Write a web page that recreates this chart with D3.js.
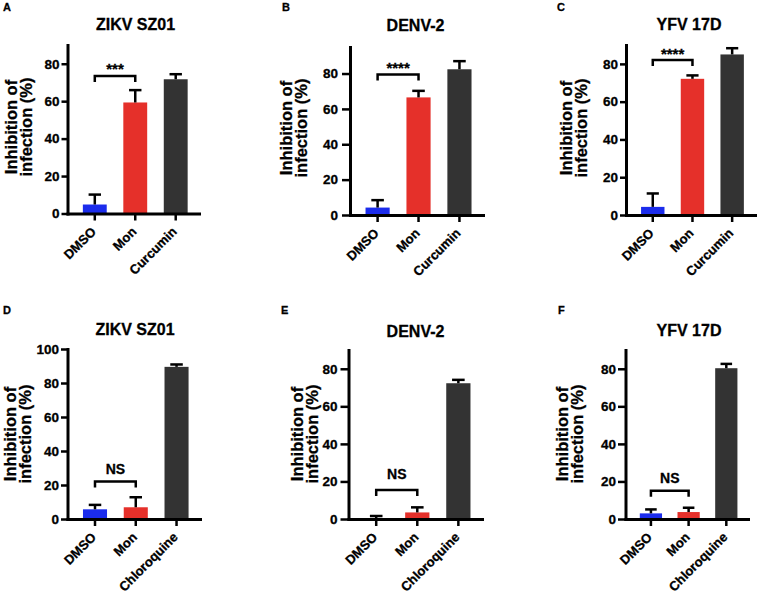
<!DOCTYPE html>
<html>
<head>
<meta charset="utf-8">
<script src="https://cdn.jsdelivr.net/npm/d3@7"></script>
<style>
  html, body { margin: 0; padding: 0; background: #fff; }
  svg { display: block; font-family: "Liberation Sans", Arial, Helvetica, sans-serif; font-weight: bold; }
  svg text { stroke: #000; stroke-width: 0.3px; }
</style>
</head>
<body>
<svg id="chart" width="758" height="596"></svg>
<script>
// ---------------- data ----------------
const panelLetters = ["A", "B", "C", "D", "E", "F"];
const panelTitles = ["ZIKV SZ01", "DENV-2", "YFV 17D", "ZIKV SZ01", "DENV-2", "YFV 17D"];
const categoriesTop = ["DMSO", "Mon", "Curcumin"];
const categoriesBottom = ["DMSO", "Mon", "Chloroquine"];
const panelCategories = [categoriesTop, categoriesTop, categoriesTop, categoriesBottom, categoriesBottom, categoriesBottom];
// mean inhibition (%)
const meanA = [4.8, 59.3, 71.7];
const meanB = [4.2, 66.5, 82.4];
const meanC = [4.3, 72.1, 85.0];
const meanD = [5.7, 6.9, 89.5];
const meanE = [0.3, 3.5, 72.3];
const meanF = [3.0, 3.7, 80.3];
// upper error bar (SD)
const errA = [5.3, 6.6, 2.7];
const errB = [4.2, 3.7, 4.6];
const errC = [7.1, 1.8, 3.3];
const errD = [2.6, 5.9, 1.4];
const errE = [1.3, 2.7, 1.8];
const errF = [2.1, 2.3, 2.3];
const panelMeans = [meanA, meanB, meanC, meanD, meanE, meanF];
const panelErrors = [errA, errB, errC, errD, errE, errF];
const yMax = [90, 95, 90, 100, 90, 90];
const ticks80 = [0, 20, 40, 60, 80];
const ticks100 = [0, 20, 40, 60, 80, 100];
const panelTicks = [ticks80, ticks80, ticks80, ticks100, ticks80, ticks80];
const significance = ["***", "****", "****", "NS", "NS", "NS"];
const bracketLevel = [73.5, 79.5, 82, 22, 15.5, 15];
const yLabelLines = ["Inhibition of", "infection (%)"];

// ---------------- layout & style ----------------
const barColors = ["#1b2cec", "#e5302a", "#333333"];
const layout = [
  {ax: 67.5, base: 213.5, top: 45, right: 199, tick: 6, pad: 2, lx: 3,   ly: 11,  tx: 135.5, ty: 30,  labX: 16.5, labY: 127, sigOff: 1.5},
  {ax: 350,  base: 215,   top: 47, right: 483, tick: 8, pad: 4, lx: 282, ly: 11,  tx: 415.5, ty: 30.5, labX: 291.5, labY: 128, sigOff: 1.5},
  {ax: 626,  base: 215,   top: 45, right: 755, tick: 6, pad: 2, lx: 557, ly: 11,  tx: 689,   ty: 29.5, labX: 571.5, labY: 128, sigOff: 1},
  {ax: 67.5, base: 519,   top: 349, right: 200, tick: 6.5, pad: 2, lx: 3,   ly: 314, tx: 135,   ty: 335, labX: 15.5,  labY: 434, sigOff: 8},
  {ax: 348.5, base: 519,  top: 350, right: 482, tick: 8, pad: 3, lx: 281, ly: 314, tx: 415.5, ty: 336.5, labX: 302.5, labY: 434, sigOff: 11},
  {ax: 625.5, base: 519,  top: 350, right: 748, tick: 7.5, pad: 2, lx: 558, ly: 314, tx: 689,   ty: 336, labX: 567.5, labY: 434, sigOff: 7.5}
];

const svg = d3.select("#chart");

panelLetters.forEach((letter, i) => {
  const L = layout[i];
  const cats = panelCategories[i];
  const means = panelMeans[i];
  const errs = panelErrors[i];
  const g = svg.append("g");

  const x = d3.scaleBand().domain(cats).range([L.ax, L.right])
    .paddingInner(0.41).paddingOuter(0.33).align(0.575);
  const y = d3.scaleLinear().domain([0, yMax[i]]).range([L.base, L.top]);

  // panel letter
  g.append("text").attr("x", L.lx).attr("y", L.ly)
    .attr("font-size", 11).attr("fill", "#000").text(letter);
  // title
  g.append("text").attr("x", L.tx).attr("y", L.ty)
    .attr("text-anchor", "middle").attr("font-size", 16).attr("fill", "#000")
    .text(panelTitles[i]);

  // bars
  const rows = cats.map((c, k) => ({c, m: means[k], e: errs[k], k}));
  g.selectAll("rect.bar").data(rows).join("rect").attr("class", "bar")
    .attr("x", d => x(d.c)).attr("width", x.bandwidth())
    .attr("y", d => y(d.m)).attr("height", d => y(0) - y(d.m))
    .attr("fill", d => barColors[d.k]);

  // error bars (upper only)
  const capW = x.bandwidth() * 0.52;
  const eb = g.selectAll("g.err").data(rows).join("g").attr("class", "err");
  eb.append("line")
    .attr("x1", d => x(d.c) + x.bandwidth() / 2).attr("x2", d => x(d.c) + x.bandwidth() / 2)
    .attr("y1", d => y(d.m)).attr("y2", d => y(d.m + d.e))
    .attr("stroke", "#000").attr("stroke-width", 2.5);
  eb.append("line")
    .attr("x1", d => x(d.c) + x.bandwidth() / 2 - capW / 2).attr("x2", d => x(d.c) + x.bandwidth() / 2 + capW / 2)
    .attr("y1", d => y(d.m + d.e)).attr("y2", d => y(d.m + d.e))
    .attr("stroke", "#000").attr("stroke-width", 2.5);

  // y axis
  const yAxis = g.append("g").attr("transform", `translate(${L.ax},0)`)
    .call(d3.axisLeft(y).tickValues(panelTicks[i]).tickFormat(d3.format("d"))
      .tickSize(L.tick).tickSizeOuter(0).tickPadding(L.pad));
  // x axis
  const xAxis = g.append("g").attr("transform", `translate(0,${L.base})`)
    .call(d3.axisBottom(x).tickSize(7).tickSizeOuter(0).tickFormat(""));
  [yAxis, xAxis].forEach(a => {
    a.select(".domain").attr("stroke", "#000").attr("stroke-width", 3).attr("stroke-linecap", "square");
    a.selectAll(".tick line").attr("stroke", "#000").attr("stroke-width", 2.5);
  });
  yAxis.selectAll(".tick text").attr("font-size", 13.5).attr("font-weight", "bold")
    .attr("fill", "#000").attr("font-family", "Liberation Sans, Arial, sans-serif");

  // rotated category labels
  g.selectAll("text.cat").data(cats).join("text").attr("class", "cat")
    .attr("transform", d => `translate(${x(d) + x.bandwidth() / 2 + 2},${L.base + 19}) rotate(-45)`)
    .attr("text-anchor", "end").attr("font-size", 13).attr("fill", "#000")
    .text(d => d);

  // y-axis title (two lines)
  const yl = g.append("text")
    .attr("transform", `translate(${L.labX},${L.labY}) rotate(-90)`)
    .attr("text-anchor", "middle").attr("font-size", 16.5).attr("fill", "#000");
  yLabelLines.forEach((t, k) => {
    yl.append("tspan").attr("x", 0).attr("y", k * 15).text(t);
  });

  // significance bracket
  const x0 = x(cats[0]) + x.bandwidth() / 2;
  const x1 = x(cats[1]) + x.bandwidth() / 2;
  const by = y(bracketLevel[i]);
  g.append("path")
    .attr("d", d3.line()([[x0, by + 6], [x0, by], [x1, by], [x1, by + 6]]))
    .attr("fill", "none").attr("stroke", "#000").attr("stroke-width", 2.5);
  const isStar = significance[i] !== "NS";
  g.append("text").attr("x", (x0 + x1) / 2).attr("y", by - L.sigOff)
    .attr("text-anchor", "middle").attr("font-size", isStar ? 15 : 14).attr("fill", "#000")
    .text(significance[i]);
});
</script>
</body>
</html>
